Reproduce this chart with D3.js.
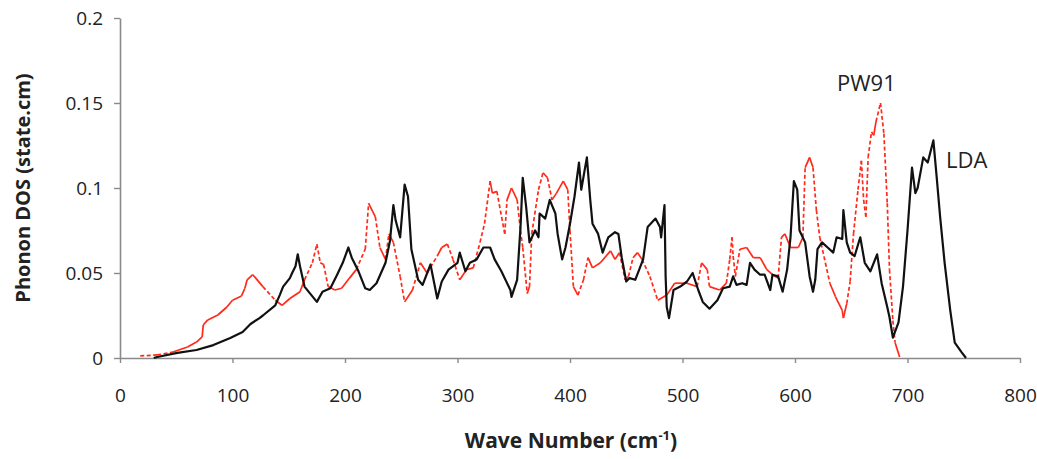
<!DOCTYPE html>
<html>
<head>
<meta charset="utf-8">
<script src="https://cdn.jsdelivr.net/npm/d3@7"></script>
<style>
  html, body { margin: 0; padding: 0; background: #fff; }
  svg { display: block; font-family: "Open Sans", "Liberation Sans", sans-serif; }
</style>
</head>
<body>
<svg id="chart" width="1037" height="459"></svg>
<script>
// Phonon density of states, LDA vs PW91
const xTicks = [0, 100, 200, 300, 400, 500, 600, 700, 800];
const yTicks = [0, 0.05, 0.1, 0.15, 0.2];
const yTickLabels = ["0", "0.05", "0.1", "0.15", "0.2"];

const ldaWave = [30,33,51,68,83,98,109,116,124,127,138,142,145,151,153,156,158,160,164,175,180,187,193,198,203,206,212,218,222,228,236,240,243,245,249,253,256,259,265,269,276,282,286,292,300,302,307,311,317,323,329,333,339,347,348,353,356,358,361,364,369,372,373,378,382,387,389,393,396,400,404,408,410,415,418,420,425,429,434,440,443,446,450,453,458,465,469,476,480,481,484,485,486,488,492,498,504,509,514,518,524,531,536,542,545,548,553,557,560,564,569,573,578,580,585,589,593,596,599,602,604,609,613,616,618,620,624,629,634,637,642,643,646,649,653,658,662,667,673,677,682,684,687,692,696,700,704,707,709,714,718,723,726,729,733,738,742,748,752];
const ldaDos = [0,0.0006,0.003,0.0047,0.0076,0.0118,0.0153,0.020,0.0235,0.025,0.031,0.037,0.042,0.047,0.050,0.054,0.061,0.054,0.042,0.033,0.039,0.041,0.049,0.056,0.065,0.059,0.051,0.041,0.040,0.044,0.056,0.069,0.090,0.081,0.071,0.102,0.095,0.064,0.046,0.043,0.055,0.035,0.045,0.052,0.056,0.062,0.051,0.056,0.058,0.065,0.065,0.058,0.051,0.040,0.036,0.046,0.077,0.106,0.089,0.068,0.075,0.071,0.085,0.082,0.093,0.085,0.073,0.058,0.065,0.079,0.095,0.115,0.099,0.118,0.093,0.079,0.073,0.062,0.071,0.074,0.073,0.059,0.045,0.047,0.046,0.058,0.077,0.082,0.077,0.071,0.090,0.048,0.030,0.0235,0.040,0.042,0.045,0.050,0.040,0.033,0.029,0.034,0.041,0.042,0.048,0.043,0.044,0.043,0.056,0.052,0.049,0.049,0.040,0.049,0.048,0.039,0.052,0.071,0.104,0.099,0.075,0.068,0.048,0.039,0.046,0.064,0.068,0.065,0.062,0.071,0.070,0.087,0.068,0.062,0.060,0.071,0.056,0.051,0.061,0.044,0.030,0.024,0.012,0.021,0.042,0.075,0.112,0.097,0.100,0.118,0.115,0.128,0.106,0.083,0.056,0.028,0.009,0.0035,0];

const pw91Wave = [18,33,47,60,68,73,74,78,87,95,100,108,111,113,118,127,138,144,151,160,164,171,175,178,181,185,191,197,204,210,218,221,227,231,236,239,243,249,253,260,267,273,282,286,291,296,302,308,314,320,324,329,331,335,342,344,348,353,356,358,362,364,366,372,376,380,384,388,394,398,400,403,407,412,416,420,427,436,440,444,449,452,456,460,464,471,478,486,493,504,513,517,522,524,533,539,542,544,545,547,551,557,563,569,575,580,585,588,591,596,603,607,609,613,616,619,622,627,631,636,642,643,646,649,652,656,659,661,663,665,668,670,672,676,679,682,684,687,689,693];
const pw91Dos = [0.0012,0.0018,0.0035,0.0065,0.0094,0.0124,0.0194,0.0224,0.0253,0.030,0.034,0.0365,0.041,0.046,0.049,0.042,0.034,0.031,0.035,0.039,0.046,0.056,0.067,0.056,0.055,0.042,0.040,0.041,0.047,0.052,0.064,0.091,0.083,0.065,0.058,0.073,0.068,0.048,0.033,0.040,0.056,0.050,0.060,0.065,0.067,0.058,0.046,0.052,0.053,0.068,0.079,0.104,0.097,0.098,0.073,0.093,0.100,0.093,0.075,0.065,0.038,0.042,0.073,0.099,0.109,0.106,0.093,0.097,0.104,0.099,0.075,0.042,0.037,0.046,0.059,0.053,0.056,0.063,0.058,0.062,0.046,0.048,0.059,0.062,0.058,0.048,0.034,0.037,0.044,0.044,0.042,0.056,0.052,0.042,0.040,0.044,0.058,0.071,0.060,0.048,0.064,0.065,0.059,0.059,0.052,0.049,0.047,0.071,0.073,0.065,0.065,0.071,0.112,0.118,0.112,0.087,0.071,0.056,0.044,0.036,0.028,0.0235,0.032,0.045,0.073,0.099,0.116,0.093,0.083,0.118,0.133,0.131,0.139,0.150,0.132,0.091,0.052,0.022,0.009,0.0006];

const svg = d3.select("#chart");
const x = d3.scaleLinear().domain([0, 800]).range([120, 1020]);
const y = d3.scaleLinear().domain([0, 0.2]).range([358, 18]);
const axisColor = "#8a8a8a";
const textColor = "#222";

// Y axis
const yAxis = svg.append("g")
  .attr("transform", `translate(${x(0)},0)`)
  .call(d3.axisLeft(y).tickValues(yTicks).tickSize(6).tickSizeOuter(0).tickPadding(11)
    .tickFormat((d, i) => yTickLabels[i]));

// X axis
const xAxis = svg.append("g")
  .attr("transform", `translate(0,${y(0)})`)
  .call(d3.axisBottom(x).tickValues(xTicks).tickSize(5).tickSizeOuter(0).tickPadding(26)
    .tickFormat(d3.format("d")));

[yAxis, xAxis].forEach(g => {
  g.select(".domain").attr("stroke", axisColor).attr("stroke-width", 1.6);
  g.selectAll(".tick line").attr("stroke", axisColor).attr("stroke-width", 1.4);
  g.selectAll(".tick text").attr("fill", textColor).style("font-size", "19px")
    .style("font-family", "'Open Sans', sans-serif");
});

// Axis titles
svg.append("text")
  .attr("transform", "translate(30,188) rotate(-90)")
  .attr("text-anchor", "middle")
  .attr("fill", textColor)
  .style("font-size", "20px").style("font-weight", 700)
  .text("Phonon DOS (state.cm)");

const xt = svg.append("text")
  .attr("x", 571).attr("y", 448)
  .attr("text-anchor", "middle")
  .attr("fill", textColor)
  .style("font-size", "21px").style("font-weight", 700);
xt.append("tspan").text("Wave Number (cm");
xt.append("tspan").attr("dy", -8).style("font-size", "13px").text("-1");
xt.append("tspan").attr("dy", 8).text(")");

// PW91: red dashed, dash pattern restarting on every segment
const pw = pw91Wave.map((w, i) => [x(w), y(pw91Dos[i])]);
const segs = d3.pairs(pw);
svg.append("g").selectAll("line").data(segs).join("line")
  .attr("x1", d => d[0][0]).attr("y1", d => d[0][1])
  .attr("x2", d => d[1][0]).attr("y2", d => d[1][1])
  .attr("stroke", "#ff2a1a")
  .attr("stroke-width", 1.7)
  .attr("stroke-linecap", "butt")
  .attr("stroke-dasharray", d => Math.hypot(d[1][0] - d[0][0], d[1][1] - d[0][1]) > 16 ? "4,2.5" : null);

// LDA: black solid
const line = d3.line().x(d => x(d[0])).y(d => y(d[1]));
svg.append("path")
  .datum(ldaWave.map((w, i) => [w, ldaDos[i]]))
  .attr("fill", "none")
  .attr("stroke", "#111")
  .attr("stroke-width", 2.2)
  .attr("stroke-linejoin", "round")
  .attr("d", line);

// Series labels
svg.append("text").attr("x", 837).attr("y", 91)
  .attr("fill", textColor).style("font-size", "22px").text("PW91");
svg.append("text").attr("x", 946).attr("y", 168)
  .attr("fill", textColor).style("font-size", "22px").text("LDA");
</script>
</body>
</html>
